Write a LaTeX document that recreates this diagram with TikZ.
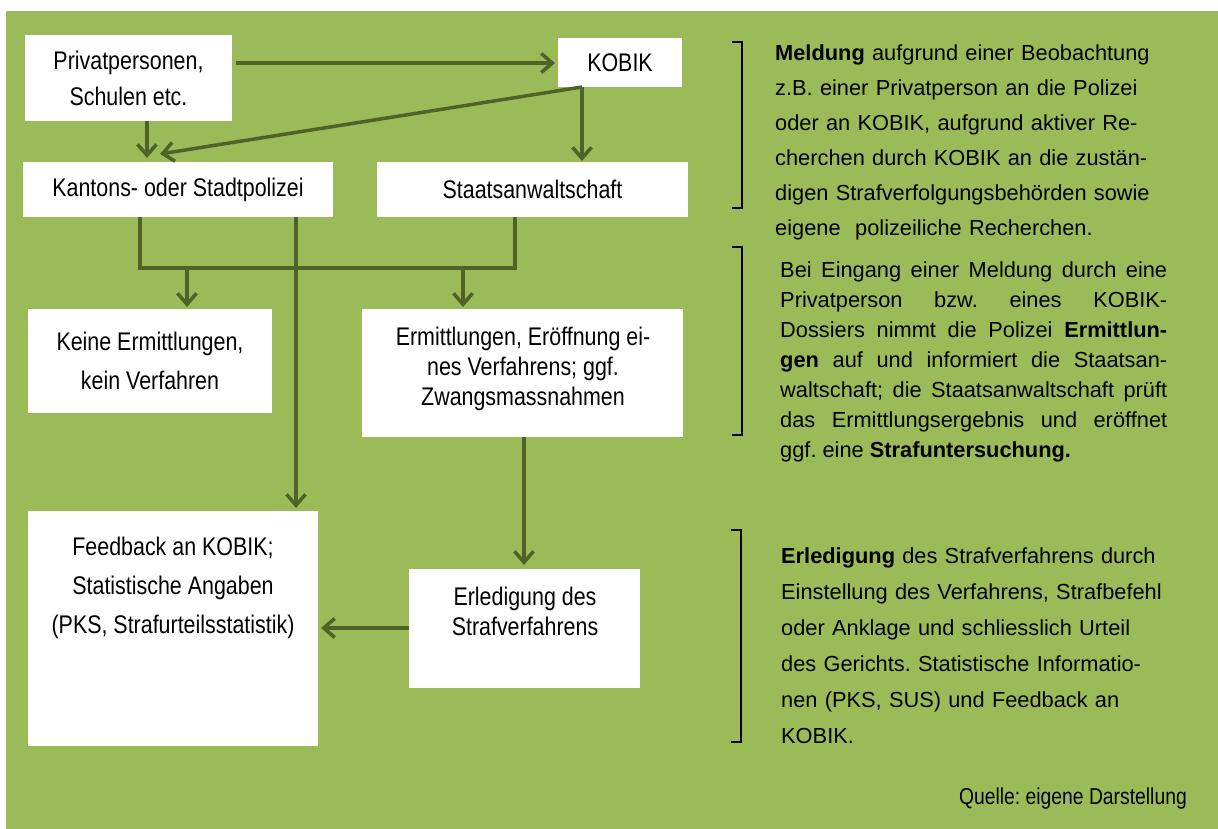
\documentclass[tikz,border=0pt]{standalone}
\usepackage{fontspec}
\setmainfont{Liberation Sans}
\newfontfamily\narrowfont{Liberation Sans}[FakeStretch=0.84]
\usetikzlibrary{arrows.meta,calc}
\definecolor{bggreen}{HTML}{9BBB59}
\definecolor{arrgreen}{HTML}{4F6228}
\frenchspacing
\begin{document}
\begin{tikzpicture}[x=1pt,y=-1pt,
  wbox/.style={fill=white, draw=none, inner sep=0, outer sep=0},
  btxt/.style={font=\narrowfont\fontsize{25.5}{#1}\selectfont, align=center, inner sep=0},
  btxt/.default=36,
  ln/.style={draw=arrgreen, line width=3.5pt},
  arr/.style={ln, -{Straight Barb[length=11pt,width=19pt]}},
  brk/.style={draw=black, line width=2pt},
  ptxt/.style={font=\fontsize{21.8}{#1}\selectfont, inner sep=0, anchor=north west, text width=420pt, align=left},
  ptxt/.default=35
]
\useasboundingbox (0,0) rectangle (1218,829);
\fill[white] (0,0) rectangle (1218,829);
\fill[bggreen] (6,11) rectangle (1218,829);

% boxes
\node[wbox, minimum width=207pt, minimum height=86pt, btxt=36] (priv) at (128.5,78) {Privatpersonen,\\Schulen etc.};
\node[wbox, minimum width=124pt, minimum height=49pt, btxt] (kobik) at (620,62.5) {KOBIK};
\node[wbox, minimum width=310pt, minimum height=55pt, btxt] (kant) at (178,189.5) {Kantons- oder Stadtpolizei};
\node[wbox, minimum width=311pt, minimum height=55pt, btxt] (staat) at (532.5,189.5) {Staatsanwaltschaft};
\node[wbox, minimum width=244pt, minimum height=104pt, btxt=39] (keine) at (150,361) {Keine Ermittlungen,\\kein Verfahren};
\node[wbox, minimum width=321pt, minimum height=128pt] (ermit) at (522.5,373) {};
\node[btxt=30] (ermittxt) at (523,368.5) {Ermittlungen, Eröffnung ei-\\nes Verfahrens; ggf.\\Zwangsmassnahmen};
\node[wbox, minimum width=290pt, minimum height=235pt] (feed) at (173,628.5) {};
\node[btxt=39] (feedtxt) at (173,588) {Feedback an KOBIK;\\Statistische Angaben\\(PKS, Strafurteilsstatistik)};
\node[wbox, minimum width=231pt, minimum height=119pt] (erled) at (524.5,628.5) {};
\node[btxt=30] (erledtxt) at (525,611) {Erledigung des\\Strafverfahrens};

% helper coordinates
\coordinate (xa) at (147,0);
\coordinate (xb) at (582,0);
\coordinate (kin) at (160,154);
\coordinate (xd) at (140,0);
\coordinate (xe) at (515,0);
\coordinate (ybr) at (0,268);
\coordinate (xf) at (187,0);
\coordinate (xg) at (463,0);
\coordinate (xh) at (296,0);
\coordinate (xi) at (524,0);
\coordinate (yj) at (0,628);
\coordinate (ya) at (0,63);

% connectors
\draw[arr, shorten <=4pt, shorten >=3pt] (priv.east |- ya) -- (kobik.west |- ya);
\draw[arr, shorten >=4pt] (priv.south -| xa) -- (kant.north -| xa);
\draw[arr] (kobik.south -| xb) -- (kin);
\draw[arr, shorten >=1pt] (kobik.south -| xb) -- (staat.north -| xb);
\draw[ln] (kant.south -| xd) -- (xd |- ybr) -- (xe |- ybr) -- (staat.south -| xe);
\draw[arr, shorten >=2pt] (xf |- ybr) -- (keine.north -| xf);
\draw[arr, shorten >=2pt] (xg |- ybr) -- (ermit.north -| xg);
\draw[arr, shorten >=3pt] (kant.south -| xh) -- (feed.north -| xh);
\draw[arr, shorten >=4pt] (ermit.south -| xi) -- (erled.north -| xi);
\draw[arr, shorten >=3pt] (erled.west |- yj) -- (feed.east |- yj);

% brackets
\draw[brk] (732,42) -- (742,42) -- (742,208) -- (732,208);
\draw[brk] (732,247) -- (742,247) -- (742,435) -- (732,435);
\draw[brk] (731,530) -- (741,530) -- (741,742) -- (731,742);

% paragraphs
\node[ptxt=35] (p1) at (775,36) {\strut\textbf{Meldung} aufgrund einer Beobachtung\\z.B. einer Privatperson an die Polizei\\oder an KOBIK, aufgrund aktiver Re-\\cherchen durch KOBIK an die zustän-\\digen Strafverfolgungsbehörden sowie\\eigene\ \ polizeiliche Recherchen.};
\node[ptxt=30, text width=387pt, align=justify] (p2) at (780,256) {\strut Bei Eingang einer Meldung durch eine\linebreak Privatperson bzw. eines KOBIK-\linebreak Dossiers nimmt die Polizei \textbf{Ermittlun-}\linebreak\textbf{gen} auf und informiert die Staatsan-\linebreak waltschaft; die Staatsanwaltschaft prüft\linebreak das Ermittlungsergebnis und eröffnet\linebreak ggf. eine \textbf{Strafuntersuchung.}};
\node[ptxt=36] (p3) at (781,538) {\strut\textbf{Erledigung} des Strafverfahrens durch\\Einstellung des Verfahrens, Strafbefehl\\oder Anklage und schliesslich Urteil\\des Gerichts. Statistische Informatio-\\nen (PKS, SUS) und Feedback an\\KOBIK.};

\node[font=\narrowfont\fontsize{23}{27}\selectfont, inner sep=0, anchor=base east] (quelle) at (1187,804) {Quelle: eigene Darstellung};
\end{tikzpicture}
\end{document}
